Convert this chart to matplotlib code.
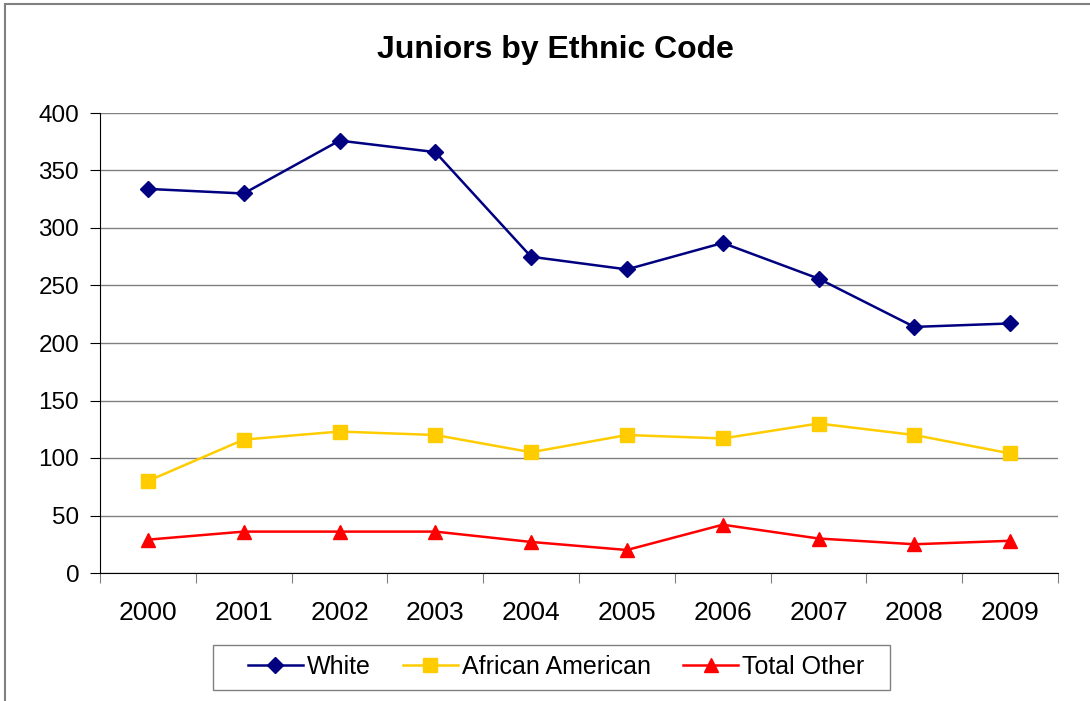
import matplotlib.pyplot as plt
import numpy as np
from matplotlib.patches import Rectangle

plt.rcParams['font.family'] = ['Liberation Sans', 'DejaVu Sans']

years = ["2000", "2001", "2002", "2003", "2004", "2005", "2006", "2007", "2008", "2009"]
white = [334, 330, 376, 366, 275, 264, 287, 256, 214, 217]
african_american = [80, 116, 123, 120, 105, 120, 117, 130, 120, 104]
total_other = [29, 36, 36, 36, 27, 20, 42, 30, 25, 28]

fig = plt.figure(figsize=(10.9, 7.01), dpi=100)
ax = fig.add_axes([100 / 1090, 1 - 573 / 701, 958 / 1090, 460 / 701])

# outer chart border (only left and top edges are visible in the crop)
top = 1 - 3.5 / 701
fig.patches.append(Rectangle((4.5 / 1090, top - 2), 2, 2, transform=fig.transFigure,
                             fill=False, edgecolor="#808080", linewidth=1.5))

x = np.arange(len(years))
ax.plot(x, white, color="#000080", marker="D", markersize=8, linewidth=1.8, label="White")
ax.plot(x, african_american, color="#FFCC00", marker="s", markersize=10, linewidth=1.8,
        label="African American")
ax.plot(x, total_other, color="#FF0000", marker="^", markersize=10, linewidth=1.8,
        label="Total Other")

ax.set_xlim(-0.5, len(years) - 0.5)
ax.set_ylim(0, 400)
ax.set_yticks(np.arange(0, 401, 50))
ax.set_xticks(np.arange(-0.5, len(years), 1.0))
ax.set_xticklabels([])
ax.set_xticks(x, minor=True)
ax.set_xticklabels(years, minor=True)
ax.tick_params(axis="x", which="minor", length=0, pad=20, labelsize=19)
ax.tick_params(axis="x", which="major", length=7, direction="out", color="#808080")
ax.tick_params(axis="y", length=7, direction="out", labelsize=17.5, pad=8)

ax.yaxis.grid(True, color="#808080", linewidth=1)
ax.set_axisbelow(True)
for s in ["top", "right"]:
    ax.spines[s].set_visible(False)
ax.spines["left"].set_color("black")
ax.spines["bottom"].set_color("black")

fig.text(555 / 1090, 1 - 50 / 701, "Juniors by Ethnic Code", ha="center", va="center",
         fontsize=23, fontweight="bold")

# legend without its own frame; box drawn separately so the side padding matches
leg = fig.legend(loc="center", bbox_to_anchor=(556 / 1090, 1 - 667 / 701), ncol=3,
                 fontsize=18, frameon=False, handlelength=2.2, handletextpad=0.15,
                 columnspacing=1.3)
fig.patches.append(Rectangle((213 / 1090, 1 - 690 / 701), 677 / 1090, 45 / 701,
                             transform=fig.transFigure, fill=False,
                             edgecolor="#808080", linewidth=1))

fig.savefig("out.png", dpi=100)
